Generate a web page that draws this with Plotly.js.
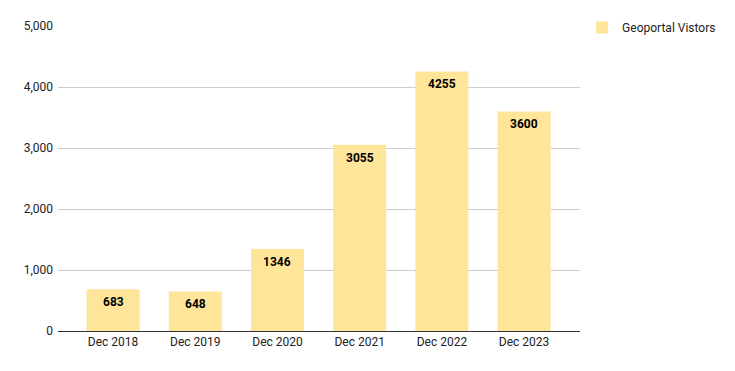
<!DOCTYPE html>
<html><head><meta charset="utf-8">
<script src="https://cdn.plot.ly/plotly-3.0.1.min.js"></script>
<style>html,body{margin:0;padding:0;background:#fff}#c{width:735px;height:371px}</style>
</head><body><div id="c"></div>
<script>
const categories = ["Dec 2018","Dec 2019","Dec 2020","Dec 2021","Dec 2022","Dec 2023"];
const visitors = [683, 648, 1346, 3055, 4255, 3600];
const seriesName = "Geoportal Vistors";
const yTicks = [0, 1000, 2000, 3000, 4000, 5000];
const yTickLabels = ["0","1,000","2,000","3,000","4,000","5,000"];

const labels = categories.map((c, i) => ({
  x: c, y: visitors[i], xref: "x", yref: "y",
  text: String(visitors[i]), showarrow: false,
  yanchor: "top", yshift: -4,
  font: {family: "Roboto", size: 12, color: "#000", weight: 700}
}));

Plotly.newPlot("c", [{
  type: "bar",
  x: categories,
  y: visitors,
  name: seriesName,
  width: 0.645,
  marker: {color: "#FFE599"},
  showlegend: true
}], {
  width: 735, height: 371,
  margin: {l: 58, r: 155, t: 26, b: 40, autoexpand: false},
  paper_bgcolor: "#fff", plot_bgcolor: "#fff",
  font: {family: "Roboto", size: 12, color: "#222"},
  xaxis: {type: "category", range: [-0.67, 5.68], showgrid: false, showline: true,
          linecolor: "#333", linewidth: 1, ticks: "", tickfont: {size: 12, color: "#222"}},
  yaxis: {range: [0, 5000], tickvals: yTicks, ticktext: yTickLabels, showgrid: true,
          gridcolor: "#ccc", zeroline: false, showline: false, ticks: "", ticklen: 0,
          ticklabelstandoff: 4,
          tickfont: {size: 12, color: "#222"}, automargin: false},
  legend: {xref: "container", yref: "container", x: 0.792, y: 0.965,
           xanchor: "left", yanchor: "top", font: {size: 12, color: "#222"},
           itemwidth: 30},
  annotations: labels,
  bargap: 0.35
}, {displayModeBar: false, staticPlot: true});
</script></body></html>
